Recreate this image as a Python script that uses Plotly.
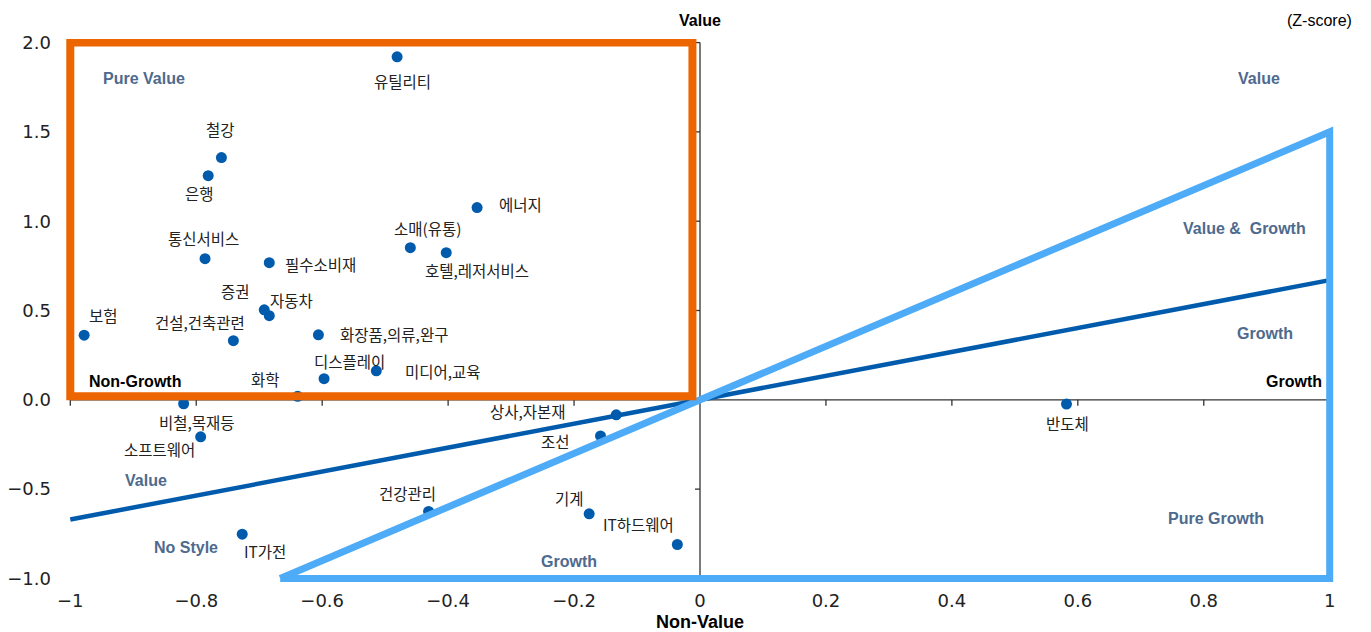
import plotly.graph_objects as go

# ---------------- data ----------------
sectors = ["유틸리티", "철강", "은행", "에너지", "소매(유통)", "호텔,레저서비스",
           "통신서비스", "필수소비재", "증권", "자동차", "보험", "화장품,의류,완구",
           "건설,건축관련", "디스플레이", "미디어,교육", "화학", "비철,목재등",
           "소프트웨어", "상사,자본재", "조선", "반도체", "건강관리", "기계",
           "IT하드웨어", "IT가전"]
growth_x = [-0.481, -0.760, -0.781, -0.354, -0.460, -0.403,
            -0.786, -0.684, -0.692, -0.684, -0.978, -0.606,
            -0.741, -0.597, -0.514, -0.639, -0.820,
            -0.793, -0.133, -0.158, 0.582, -0.431, -0.176,
            -0.036, -0.727]
value_y = [1.92, 1.356, 1.255, 1.076, 0.852, 0.824,
           0.790, 0.768, 0.504, 0.471, 0.362, 0.364,
           0.331, 0.118, 0.162, 0.020, -0.022,
           -0.207, -0.084, -0.202, -0.024, -0.625, -0.638,
           -0.810, -0.752]

x_ticks = [-1, -0.8, -0.6, -0.4, -0.2, 0, 0.2, 0.4, 0.6, 0.8, 1]
x_ticktext = ["\u22121", "\u22120.8", "\u22120.6", "\u22120.4", "\u22120.2", "0",
              "0.2", "0.4", "0.6", "0.8", "1"]
y_ticks = [-1.0, -0.5, 0.0, 0.5, 1.0, 1.5, 2.0]
y_ticktext = ["\u22121.0", "\u22120.5", "0.0", "0.5", "1.0", "1.5", "2.0"]

# style lines: dark-blue guide slope, light-blue triangle, orange box
guide_x = [-1, 1]
guide_slope = 0.67
tri_x = [-2 / 3, 1, 1, -2 / 3]
tri_y = [-1.0, 1.5, -1.0, -1.0]
box_x = [-1.0, -0.012]
box_y = [0.02, 2.0]

# label offsets (pixels) relative to each point: (dx, dy)
label_offsets = {
    "유틸리티": (5, -24), "철강": (-1, 29), "은행": (-9, -17), "에너지": (43, 4),
    "소매(유통)": (18, 20), "호텔,레저서비스": (31, -17), "통신서비스": (-2, 21),
    "필수소비재": (51, -1), "증권": (-29, 19), "자동차": (22, 16), "보험": (19, 20),
    "화장품,의류,완구": (76, 1), "건설,건축관련": (-33, 19), "디스플레이": (25, 18),
    "미디어,교육": (67, 0), "화학": (-32, 17), "비철,목재등": (13, -18),
    "소프트웨어": (-41, -12), "상사,자본재": (-88, 4), "조선": (-45, -5),
    "반도체": (1, -19), "건강관리": (-21, 18), "기계": (-20, 16),
    "IT하드웨어": (-39, 20), "IT가전": (23, -17),
}

DARK_BLUE = "#005BAC"
LIGHT_BLUE = "#4DABF7"
ORANGE = "#EC6500"
SLATE = "#4E6A8E"
KFONT = "Noto Sans CJK KR"
TFONT = "DejaVu Sans"
NARROW = "Liberation Sans Narrow, Arial Narrow, Liberation Sans, sans-serif"

fig = go.Figure()

# axis lines through the origin
shapes = [
    dict(type="line", xref="x", yref="y", x0=0, x1=0, y0=y_ticks[0], y1=y_ticks[-1],
         line=dict(color="#333333", width=1.3), layer="below"),
    dict(type="line", xref="x", yref="y", x0=x_ticks[0], x1=x_ticks[-1], y0=0, y1=0,
         line=dict(color="#333333", width=1.3), layer="below"),
]
for xv in x_ticks:
    if xv == 0:
        continue
    shapes.append(dict(type="line", xref="x", yref="y", ysizemode="pixel", yanchor=0,
                       x0=xv, x1=xv, y0=0, y1=-6,
                       line=dict(color="#333333", width=1.3), layer="below"))
for yv in y_ticks:
    if yv == 0:
        continue
    shapes.append(dict(type="line", xref="x", yref="y", xsizemode="pixel", xanchor=0,
                       x0=0, x1=-5, y0=yv, y1=yv,
                       line=dict(color="#333333", width=1.3), layer="below"))

# points
fig.add_trace(go.Scatter(
    x=growth_x, y=value_y, mode="markers",
    marker=dict(size=11, color=DARK_BLUE),
    hovertext=sectors, hoverinfo="text", showlegend=False, cliponaxis=False,
))

# dark-blue guide line
fig.add_trace(go.Scatter(
    x=guide_x, y=[guide_slope * v for v in guide_x], mode="lines",
    line=dict(color=DARK_BLUE, width=4.5), hoverinfo="skip", showlegend=False,
))

# orange box
shapes.append(dict(type="rect", xref="x", yref="y", x0=box_x[0], x1=box_x[1],
                   y0=box_y[0], y1=box_y[1], line=dict(color=ORANGE, width=8),
                   layer="above"))

# light-blue triangle
fig.add_trace(go.Scatter(
    x=tri_x, y=tri_y, mode="lines",
    line=dict(color=LIGHT_BLUE, width=7, shape="linear"), hoverinfo="skip",
    showlegend=False,
))

annotations = []
for name, xv, yv in zip(sectors, growth_x, value_y):
    dx, dy = label_offsets[name]
    annotations.append(dict(
        x=xv, y=yv, xref="x", yref="y", text=name, showarrow=False,
        xshift=dx, yshift=dy, xanchor="center", yanchor="middle",
        font=dict(family=KFONT, size=15.5, color="#222222"),
    ))

region_labels = [
    ("Pure Value", -0.883, 1.80), ("Value", 0.887, 1.80),
    ("Value &  Growth", 0.865, 0.958), ("Growth", 0.897, 0.37),
    ("Pure Growth", 0.819, -0.667), ("Growth", -0.208, -0.908),
    ("Value", -0.879, -0.454), ("No Style", -0.817, -0.829),
]
for t, xv, yv in region_labels:
    annotations.append(dict(x=xv, y=yv, xref="x", yref="y", text="<b>" + t + "</b>",
                            showarrow=False,
                            font=dict(family=NARROW, size=16, color=SLATE)))

black_labels = [("Growth", 0.943, 0.10), ("Non-Growth", -0.898, 0.10)]
for t, xv, yv in black_labels:
    annotations.append(dict(x=xv, y=yv, xref="x", yref="y", text="<b>" + t + "</b>",
                            showarrow=False,
                            font=dict(family=NARROW, size=16, color="#000000")))

annotations += [
    dict(x=0, y=1, xref="x", yref="paper", yshift=29, text="<b>Value</b>",
         showarrow=False, font=dict(family=NARROW, size=16, color="#000000")),
    dict(x=1, y=1, xref="paper", yref="paper", xshift=18, yshift=29,
         xanchor="right", text="(Z-score)", showarrow=False,
         font=dict(family=NARROW, size=16, color="#000000")),
    dict(x=0, y=0, xref="x", yref="paper", yshift=-52, text="<b>Non-Value</b>",
         showarrow=False, font=dict(family=NARROW, size=18, color="#000000")),
]

fig.update_layout(
    width=1371, height=632,
    margin=dict(l=55.7, r=42.7, t=31.4, b=58.0, autoexpand=False),
    paper_bgcolor="white", plot_bgcolor="white",
    shapes=shapes, annotations=annotations,
    xaxis=dict(range=[-1.01, 1.01], tickvals=x_ticks, ticktext=x_ticktext,
               showgrid=False, zeroline=False, showline=False, ticks="",
               ticklabelstandoff=6, automargin=False,
               tickfont=dict(family=TFONT, size=18, color="#222222")),
    yaxis=dict(range=[-1.02, 2.02], tickvals=y_ticks, ticktext=y_ticktext,
               showgrid=False, zeroline=False, showline=False, ticks="",
               ticklabelstandoff=12, automargin=False,
               tickfont=dict(family=TFONT, size=18, color="#222222")),
    showlegend=False,
)

fig.write_html("out.html")
